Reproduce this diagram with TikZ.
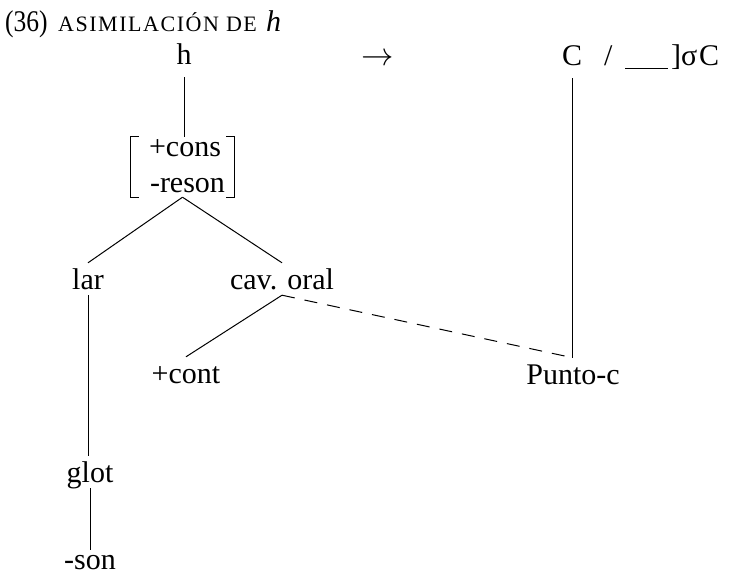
\documentclass[tikz,border=0pt]{standalone}
\usepackage{fontspec}
\setmainfont{Liberation Serif}
\begin{document}
\begin{tikzpicture}[x=1pt,y=-1pt,
  lbl/.style={font=\fontsize{30}{36}\selectfont, inner sep=0pt, text height=26pt, text depth=6pt, anchor=base},
  edge/.style={line width=1pt},
  dashedge/.style={line width=1pt, dash pattern=on 13pt off 10pt}]
\useasboundingbox (0,0) rectangle (733,577);
% title
\node[lbl, anchor=base west] (num) at (5,32) {\scalebox{0.85}[1]{(36)}};
\node[lbl, anchor=base west] (titletext) at (58,32) {\fontsize{22}{26}\selectfont\addfontfeature{LetterSpace=7}ASIMILACIÓN DE};
\node[lbl, anchor=base west] (titleh) at (266,32) {\textit{h}};
% rule line
\node[lbl, text depth=12pt] (h) at (184,65) {h};
\node[lbl] (arrow) at (378,66) {\scalebox{1.3}{$\rightarrow$}};
\node[lbl, text depth=12pt] (C) at (572,66) {C};
\node[lbl, anchor=base west] (slash) at (604,66) {/};
\coordinate (blankL) at (625,69);
\coordinate (blankR) at (668,69);
\draw[edge] (blankL) -- (blankR);
\node[lbl, anchor=base west] (sigma) at (671,66) {]σ};
\node[lbl, anchor=base west] (C2) at (699,66) {C};
% feature bracket
\node[minimum width=103pt, minimum height=60pt, inner sep=0pt] (feat) at (182.5,167) {};
\draw[edge] ([xshift=8pt]feat.north west) -- (feat.north west) -- (feat.south west) -- ([xshift=8pt]feat.south west);
\draw[edge] ([xshift=-8pt]feat.north east) -- (feat.north east) -- (feat.south east) -- ([xshift=-8pt]feat.south east);
\node[lbl] (cons) at (185,157) {+cons};
\node[lbl] (reson) at (187.5,193) {-reson};
% tree nodes
\node[lbl] (lar) at (88,289) {lar};
\node[lbl] (cav) at (282,289) {cav. oral};
\node[lbl] (cont) at (186,383) {+cont};
\node[lbl] (punto) at (573,384) {Punto-c};
\node[lbl] (glot) at (90,482) {glot};
\node[lbl, text height=19pt, text depth=1pt] (son) at (90,569) {-son};
% connectors
\draw[edge] (h.south) -- (h.south |- feat.north);
\draw[edge] (feat.south) -- (lar.north);
\draw[edge] (feat.south) -- (cav.north);
\draw[edge] (lar.south) -- (lar.south |- glot.north);
\draw[edge] (glot.south) -- (glot.south |- son.north);
\draw[edge] (cav.south) -- (cont.north);
\draw[dashedge] (cav.south) -- (punto.north);
\draw[edge] (C.south) -- (C.south |- punto.north);
\end{tikzpicture}
\end{document}
